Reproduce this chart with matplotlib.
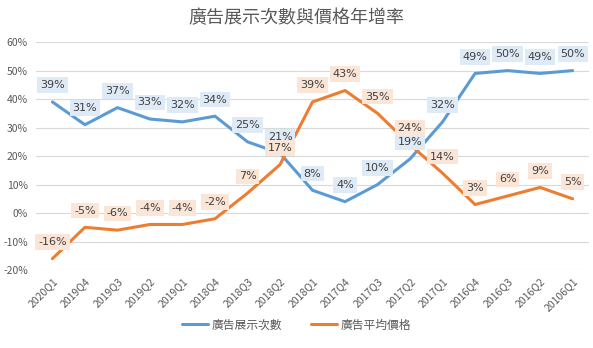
import matplotlib.pyplot as plt
import numpy as np
from matplotlib.ticker import FuncFormatter

plt.rcParams['font.family'] = ['Noto Sans CJK TC', 'DejaVu Sans']

# 資料
quarters = ['2020Q1', '2019Q4', '2019Q3', '2019Q2', '2019Q1', '2018Q4', '2018Q3',
            '2018Q2', '2018Q1', '2017Q4', '2017Q3', '2017Q2', '2017Q1', '2016Q4',
            '2016Q3', '2016Q2', '20106Q1']
impressions = [39, 31, 37, 33, 32, 34, 25, 21, 8, 4, 10, 19, 32, 49, 50, 49, 50]
avg_price = [-16, -5, -6, -4, -4, -2, 7, 17, 39, 43, 35, 24, 14, 3, 6, 9, 5]

series_names = ['廣告展示次數', '廣告平均價格']
line_colors = ['#5B9BD5', '#ED7D31']
box_colors = ['#DEEBF7', '#FBE5D6']

text_color = '#595959'

fig = plt.figure(figsize=(5.93, 3.48), dpi=100)
ax = fig.add_axes([0.061, 0.224, 0.932, 0.655])

x = np.arange(len(quarters))
for vals, name, lc, bc in zip([impressions, avg_price], series_names, line_colors, box_colors):
    ax.plot(x, vals, color=lc, linewidth=2.2, label=name, solid_capstyle='round')
    # 數據標籤
    for xi, v in zip(x, vals):
        ax.annotate(f'{v}%', (xi, v), xytext=(0, 12), textcoords='offset points',
                    ha='center', va='center', fontsize=8, color='#404040',
                    family=['DejaVu Sans'],
                    bbox=dict(boxstyle='square,pad=0.25', facecolor=bc, edgecolor='none'))

ax.set_xlim(-0.5, len(quarters) - 0.5)
ax.set_ylim(-20, 60)
ax.set_yticks(np.arange(-20, 61, 10))
ax.yaxis.set_major_formatter(FuncFormatter(lambda v, p: f'{int(v)}%'))
ax.set_xticks(x)
ax.set_xticklabels(quarters, rotation=45, ha='right', rotation_mode='anchor')
ax.tick_params(axis='both', length=0, labelsize=7.5, labelcolor=text_color)
ax.tick_params(axis='x', pad=4)
ax.tick_params(axis='y', pad=6)
ax.grid(axis='y', color='#D9D9D9', linewidth=0.8)
ax.set_axisbelow(True)
for s in ax.spines.values():
    s.set_visible(False)

fig.text(0.5, 0.948, '廣告展示次數與價格年增率', ha='center', va='center',
         fontsize=13, color=text_color, fontweight='light')

fig.legend(loc='center', bbox_to_anchor=(0.5, 0.066), ncol=2, frameon=False,
           fontsize=8.5, labelcolor=text_color, handlelength=2.2, columnspacing=2.5,
           handletextpad=0.3)

fig.savefig('out.png', dpi=100)
